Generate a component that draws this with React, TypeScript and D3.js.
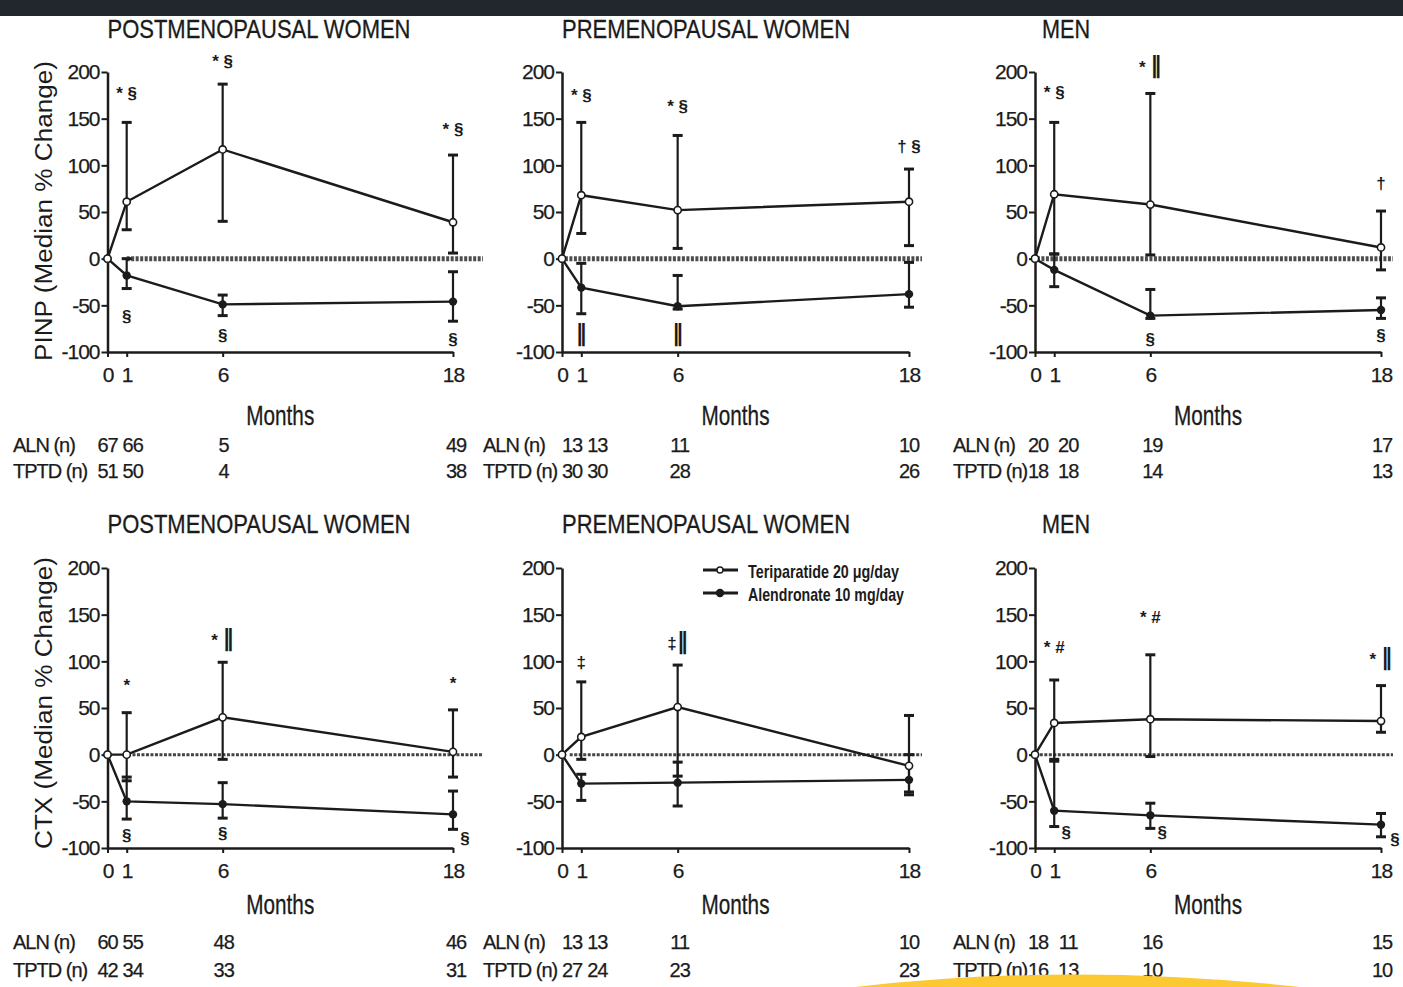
import React, { useEffect, useRef } from "react";
import * as d3 from "d3";

// time points (months) and y ticks
const months = [0, 1, 6, 18];
const yTicks = [200, 150, 100, 50, 0, -50, -100];
const groupTitles = ["POSTMENOPAUSAL WOMEN", "PREMENOPAUSAL WOMEN", "MEN"];
const markerTitles = ["PINP (Median % Change)", "CTX (Median % Change)"];
const legendLabels = ["Teriparatide 20 μg/day", "Alendronate 10 mg/day"];
const nRowLabels = ["ALN (n)", "TPTD (n)"];

// PINP - postmenopausal women
const pinpPostTptd = [0, 61, 117, 39];
const pinpPostTptdLo = [0, 31, 40, 6];
const pinpPostTptdHi = [0, 146, 187, 111];
const pinpPostAln = [0, -18, -49, -46];
const pinpPostAlnLo = [0, -32, -61, -67];
const pinpPostAlnHi = [0, 0, -39, -14];
const pinpPostAbove = ["", "* §", "* §", "* §"];
const pinpPostAboveAt = [0, 177, 212, 139];
const pinpPostBelow = ["", "§", "§", "§"];
const pinpPostBelowAt = [0, -61, -82, -86];
const pinpPostNAln = [67, 66, 5, 49];
const pinpPostNTptd = [51, 50, 4, 38];

// PINP - premenopausal women
const pinpPreTptd = [0, 68, 52, 61];
const pinpPreTptdLo = [0, 27, 11, 14];
const pinpPreTptdHi = [0, 146, 132, 96];
const pinpPreAln = [0, -31, -51, -38];
const pinpPreAlnLo = [0, -59, -54, -52];
const pinpPreAlnHi = [0, -5, -18, -4];
const pinpPreAbove = ["", "* §", "* §", "† §"];
const pinpPreAboveAt = [0, 175, 164, 121];
const pinpPreBelow = ["", "‖", "‖", ""];
const pinpPreBelowAt = [0, -82, -82, 0];
const pinpPreNAln = [13, 13, 11, 10];
const pinpPreNTptd = [30, 30, 28, 26];

// PINP - men
const pinpMenTptd = [0, 69, 58, 12];
const pinpMenTptdLo = [0, 5, 4, -12];
const pinpMenTptdHi = [0, 146, 177, 51];
const pinpMenAln = [0, -12, -61, -55];
const pinpMenAlnLo = [0, -30, -64, -64];
const pinpMenAlnHi = [0, 5, -33, -42];
const pinpMenAbove = ["", "* §", "* ‖", "†"];
const pinpMenAboveAt = [0, 178, 205, 81];
const pinpMenBelow = ["", "", "§", "§"];
const pinpMenBelowAt = [0, 0, -86, -82];
const pinpMenNAln = [20, 20, 19, 17];
const pinpMenNTptd = [18, 18, 14, 13];

// CTX - postmenopausal women
const ctxPostTptd = [0, 0, 40, 3];
const ctxPostTptdLo = [0, -28, -5, -24];
const ctxPostTptdHi = [0, 45, 99, 48];
const ctxPostAln = [0, -50, -53, -64];
const ctxPostAlnLo = [0, -69, -68, -80];
const ctxPostAlnHi = [0, -24, -30, -39];
const ctxPostAbove = ["", "*", "* ‖", "*"];
const ctxPostAboveAt = [0, 75, 123, 77];
const ctxPostBelow = ["", "§", "§", "§"];
const ctxPostBelowAt = [0, -86, -84, -89];
const ctxPostNAln = [60, 55, 48, 46];
const ctxPostNTptd = [42, 34, 33, 31];

// CTX - premenopausal women
const ctxPreTptd = [0, 19, 51, -12];
const ctxPreTptdLo = [0, -5, -23, -40];
const ctxPreTptdHi = [0, 78, 96, 42];
const ctxPreAln = [0, -31, -30, -27];
const ctxPreAlnLo = [0, -49, -55, -43];
const ctxPreAlnHi = [0, -21, -8, 0];
const ctxPreAbove = ["", "‡", "‡‖", ""];
const ctxPreAboveAt = [0, 99, 120, 0];
const ctxPreBelow = ["", "", "", ""];
const ctxPreBelowAt = [0, 0, 0, 0];
const ctxPreNAln = [13, 13, 11, 10];
const ctxPreNTptd = [27, 24, 23, 23];

// CTX - men
const ctxMenTptd = [0, 34, 38, 36];
const ctxMenTptdLo = [0, -5, -2, 24];
const ctxMenTptdHi = [0, 80, 107, 74];
const ctxMenAln = [0, -60, -65, -75];
const ctxMenAlnLo = [0, -77, -79, -88];
const ctxMenAlnHi = [0, -7, -52, -63];
const ctxMenAbove = ["", "* #", "* #", "* ‖"];
const ctxMenAboveAt = [0, 115, 147, 102];
const ctxMenBelow = ["", "§", "§", "§"];
const ctxMenBelowAt = [0, -83, -83, -90];
const ctxMenNAln = [18, 11, 16, 15];
const ctxMenNTptd = [16, 13, 10, 10];

const panels = [
  { row: 0, col: 0, tptd: pinpPostTptd, tptdLo: pinpPostTptdLo, tptdHi: pinpPostTptdHi, aln: pinpPostAln, alnLo: pinpPostAlnLo, alnHi: pinpPostAlnHi, above: pinpPostAbove, aboveAt: pinpPostAboveAt, below: pinpPostBelow, belowAt: pinpPostBelowAt, nAln: pinpPostNAln, nTptd: pinpPostNTptd },
  { row: 0, col: 1, tptd: pinpPreTptd, tptdLo: pinpPreTptdLo, tptdHi: pinpPreTptdHi, aln: pinpPreAln, alnLo: pinpPreAlnLo, alnHi: pinpPreAlnHi, above: pinpPreAbove, aboveAt: pinpPreAboveAt, below: pinpPreBelow, belowAt: pinpPreBelowAt, nAln: pinpPreNAln, nTptd: pinpPreNTptd },
  { row: 0, col: 2, tptd: pinpMenTptd, tptdLo: pinpMenTptdLo, tptdHi: pinpMenTptdHi, aln: pinpMenAln, alnLo: pinpMenAlnLo, alnHi: pinpMenAlnHi, above: pinpMenAbove, aboveAt: pinpMenAboveAt, below: pinpMenBelow, belowAt: pinpMenBelowAt, nAln: pinpMenNAln, nTptd: pinpMenNTptd },
  { row: 1, col: 0, tptd: ctxPostTptd, tptdLo: ctxPostTptdLo, tptdHi: ctxPostTptdHi, aln: ctxPostAln, alnLo: ctxPostAlnLo, alnHi: ctxPostAlnHi, above: ctxPostAbove, aboveAt: ctxPostAboveAt, below: ctxPostBelow, belowAt: ctxPostBelowAt, nAln: ctxPostNAln, nTptd: ctxPostNTptd },
  { row: 1, col: 1, tptd: ctxPreTptd, tptdLo: ctxPreTptdLo, tptdHi: ctxPreTptdHi, aln: ctxPreAln, alnLo: ctxPreAlnLo, alnHi: ctxPreAlnHi, above: ctxPreAbove, aboveAt: ctxPreAboveAt, below: ctxPreBelow, belowAt: ctxPreBelowAt, nAln: ctxPreNAln, nTptd: ctxPreNTptd },
  { row: 1, col: 2, tptd: ctxMenTptd, tptdLo: ctxMenTptdLo, tptdHi: ctxMenTptdHi, aln: ctxMenAln, alnLo: ctxMenAlnLo, alnHi: ctxMenAlnHi, above: ctxMenAbove, aboveAt: ctxMenAboveAt, below: ctxMenBelow, belowAt: ctxMenBelowAt, nAln: ctxMenNAln, nTptd: ctxMenNTptd },
];

// layout
const W = 1403;
const H = 987;
const colX0 = [107.5, 562, 1035];
const colX18 = [453, 909, 1381];
const rowTop = [72, 568];
const rowBottom = [352, 848];
const titleY = [38, 533];
const titleWidth = [303, 288, 48];
const titleShift = [0, 0, 7];
const monthsY = [425, 914];
const nY = [[452, 478], [949, 977]];
const nLabelX = [13, 483, 953];
const nShift = [[0, 6, 1, 3], [10, 16, 2, 0], [3, 14, 2, 1]];
const refStart = [[1, 0.15, 0.1], [1.3, 0.4, 0.25]];
const refEndPad = [30, 13, 12];
const belowShift = [[0, 0, 0, 0], [0, 0, 0, 0], [0, 0, 0, 0], [0, 0, 0, 12], [0, 0, 0, 0], [0, 12, 12, 14]];

const FONT = "'Liberation Sans', Arial, Helvetica, sans-serif";
const INK = "#1b1b1b";

// draws a significance mark, the double bar a bit taller
const markText = (g: any, xPos: number, yPos: number, label: string) => {
  const t = g.append("text")
    .attr("x", xPos).attr("y", yPos)
    .attr("dy", "0.35em")
    .attr("text-anchor", "middle")
    .style("font-family", FONT)
    .style("font-size", "17px")
    .style("font-weight", "bold")
    .attr("fill", INK);
  label.split(/(‖)/).filter((s) => s.length).forEach((part) => {
    t.append("tspan")
      .style("font-size", part === "‖" ? "23px" : "17px")
      .style("font-family", part === "‖" ? "'DejaVu Sans', sans-serif" : FONT)
      .text(part);
  });
};

const App = () => {
  const ref = useRef<SVGSVGElement | null>(null);

  useEffect(() => {
    const svg = d3.select(ref.current);
    svg.selectAll("*").remove();

    svg.append("rect").attr("width", W).attr("height", H).attr("fill", "#fff");

    panels.forEach((p, pi) => {
      const x = d3.scaleLinear().domain([0, 18]).range([colX0[p.col], colX18[p.col]]);
      const y = d3.scaleLinear().domain([-100, 200]).range([rowBottom[p.row], rowTop[p.row]]);
      const g = svg.append("g");

      // title
      g.append("text")
        .attr("x", colX0[p.col] + titleShift[p.col])
        .attr("y", titleY[p.row])
        .attr("textLength", titleWidth[p.col])
        .attr("lengthAdjust", "spacingAndGlyphs")
        .style("font-family", FONT)
        .style("font-size", "26px")
        .attr("fill", INK)
        .attr("stroke", INK)
        .attr("stroke-width", 0.3)
        .text(groupTitles[p.col]);

      // y axis title (first column only)
      if (p.col === 0) {
        const cy = (rowTop[p.row] + rowBottom[p.row]) / 2 + (p.row === 0 ? -1 : -5);
        g.append("text")
          .attr("transform", `translate(52,${cy}) rotate(-90)`)
          .attr("text-anchor", "middle")
          .attr("textLength", p.row === 0 ? 300 : 292)
          .attr("lengthAdjust", "spacingAndGlyphs")
          .style("font-family", FONT)
          .style("font-size", "23px")
          .attr("fill", INK)
          .text(markerTitles[p.row]);
      }

      // y axis
      const yAxis = g.append("g")
        .attr("transform", `translate(${x(0)},0)`)
        .call(d3.axisLeft(y).tickValues(yTicks).tickFormat((d) => String(d)).tickSize(6).tickSizeOuter(0).tickPadding(2));
      yAxis.select(".domain").attr("stroke", INK).attr("stroke-width", 2.5);
      yAxis.selectAll(".tick line").attr("stroke", INK).attr("stroke-width", 2);
      yAxis.selectAll(".tick text")
        .style("font-family", FONT)
        .style("font-size", "21px")
        .style("letter-spacing", "-1px")
        .attr("fill", INK)
        .attr("stroke", INK)
        .attr("stroke-width", 0.25);

      // x axis
      const xAxis = g.append("g")
        .attr("transform", `translate(0,${y(-100)})`)
        .call(d3.axisBottom(x).tickValues(months).tickFormat((d) => String(d)).tickSize(5).tickSizeOuter(0).tickPadding(10));
      xAxis.select(".domain").attr("stroke", INK).attr("stroke-width", 2.5);
      xAxis.selectAll(".tick line").attr("stroke", INK).attr("stroke-width", 2);
      xAxis.selectAll(".tick text")
        .style("font-family", FONT)
        .style("font-size", "21px")
        .style("letter-spacing", "-1px")
        .attr("fill", INK)
        .attr("stroke", INK)
        .attr("stroke-width", 0.25);

      g.append("text")
        .attr("x", (x(0) + x(18)) / 2)
        .attr("y", monthsY[p.row])
        .attr("text-anchor", "middle")
        .attr("textLength", 68)
        .attr("lengthAdjust", "spacingAndGlyphs")
        .style("font-family", FONT)
        .style("font-size", "28px")
        .attr("fill", INK)
        .attr("stroke", INK)
        .attr("stroke-width", 0.3)
        .text("Months");

      // dashed zero reference
      g.append("line")
        .attr("x1", x(refStart[p.row][p.col]))
        .attr("x2", x(18) + refEndPad[p.col])
        .attr("y1", y(0))
        .attr("y2", y(0))
        .attr("stroke", p.row === 0 ? "#4d4d4d" : "#444")
        .attr("stroke-width", p.row === 0 ? 5 : 3)
        .attr("stroke-dasharray", "3,1.5");

      // error bars
      const bars = (lo: number[], hi: number[]) => {
        months.forEach((m, i) => {
          if (i === 0) return;
          g.append("line")
            .attr("x1", x(m)).attr("x2", x(m))
            .attr("y1", y(lo[i])).attr("y2", y(hi[i]))
            .attr("stroke", INK).attr("stroke-width", 2.2);
          [lo[i], hi[i]].forEach((v) => {
            g.append("line")
              .attr("x1", x(m) - 5).attr("x2", x(m) + 5)
              .attr("y1", y(v)).attr("y2", y(v))
              .attr("stroke", INK).attr("stroke-width", 3);
          });
        });
      };
      bars(p.alnLo, p.alnHi);
      bars(p.tptdLo, p.tptdHi);

      const line = d3.line<number>().x((_, i) => x(months[i])).y((v) => y(v));
      g.append("path").attr("d", line(p.aln)).attr("fill", "none").attr("stroke", INK).attr("stroke-width", 2.4);
      g.append("path").attr("d", line(p.tptd)).attr("fill", "none").attr("stroke", INK).attr("stroke-width", 2.4);

      g.selectAll(null).data(p.aln).join("circle")
        .attr("cx", (_, i) => x(months[i])).attr("cy", (v) => y(v))
        .attr("r", 4.2).attr("fill", INK);
      g.selectAll(null).data(p.tptd).join("circle")
        .attr("cx", (_, i) => x(months[i])).attr("cy", (v) => y(v))
        .attr("r", 3.6).attr("fill", "#fff").attr("stroke", INK).attr("stroke-width", 1.6);

      // significance marks
      months.forEach((m, i) => {
        if (p.above[i]) markText(g, x(m), y(p.aboveAt[i]), p.above[i]);
        if (p.below[i]) markText(g, x(m) + belowShift[pi][i], y(p.belowAt[i]), p.below[i]);
      });

      // n table
      [p.nAln, p.nTptd].forEach((vals, r) => {
        g.append("text")
          .attr("x", nLabelX[p.col]).attr("y", nY[p.row][r])
          .style("font-family", FONT)
          .style("font-size", "20px")
          .style("letter-spacing", "-1px")
          .attr("fill", INK)
          .attr("stroke", INK)
          .attr("stroke-width", 0.25)
          .text(nRowLabels[r]);
        vals.forEach((v, i) => {
          g.append("text")
            .attr("x", x(months[i]) + nShift[p.col][i]).attr("y", nY[p.row][r])
            .attr("text-anchor", "middle")
            .style("font-family", FONT)
            .style("font-size", "20px")
            .style("letter-spacing", "-1px")
            .attr("fill", INK)
            .attr("stroke", INK)
            .attr("stroke-width", 0.25)
            .text(v);
        });
      });

      // legend (CTX premenopausal panel)
      if (p.row === 1 && p.col === 1) {
        const lg = g.append("g");
        legendLabels.forEach((lab, k) => {
          const ly = 570 + k * 23;
          lg.append("line").attr("x1", 703).attr("x2", 738).attr("y1", ly).attr("y2", ly)
            .attr("stroke", INK).attr("stroke-width", 3);
          lg.append("circle").attr("cx", 720).attr("cy", ly).attr("r", k === 0 ? 3 : 3.5)
            .attr("fill", k === 0 ? "#fff" : INK).attr("stroke", INK).attr("stroke-width", 1.4);
          lg.append("text")
            .attr("x", 748).attr("y", ly + 8)
            .attr("textLength", k === 0 ? 151 : 156)
            .attr("lengthAdjust", "spacingAndGlyphs")
            .style("font-family", FONT)
            .style("font-size", "19px")
            .style("font-weight", "bold")
            .attr("fill", INK)
            .text(lab);
        });
      }
    });

    // page decorations
    svg.append("rect").attr("x", 0).attr("y", 0).attr("width", W).attr("height", 16).attr("fill", "#22272e");
    svg.append("path").attr("d", "M855,987 Q1072,962 1300,987 Z").attr("fill", "#fcc932");
  }, []);

  return (
    <svg ref={ref} width={W} height={H} style={{ position: "absolute", left: 0, top: 0 }} />
  );
};

export default App;
